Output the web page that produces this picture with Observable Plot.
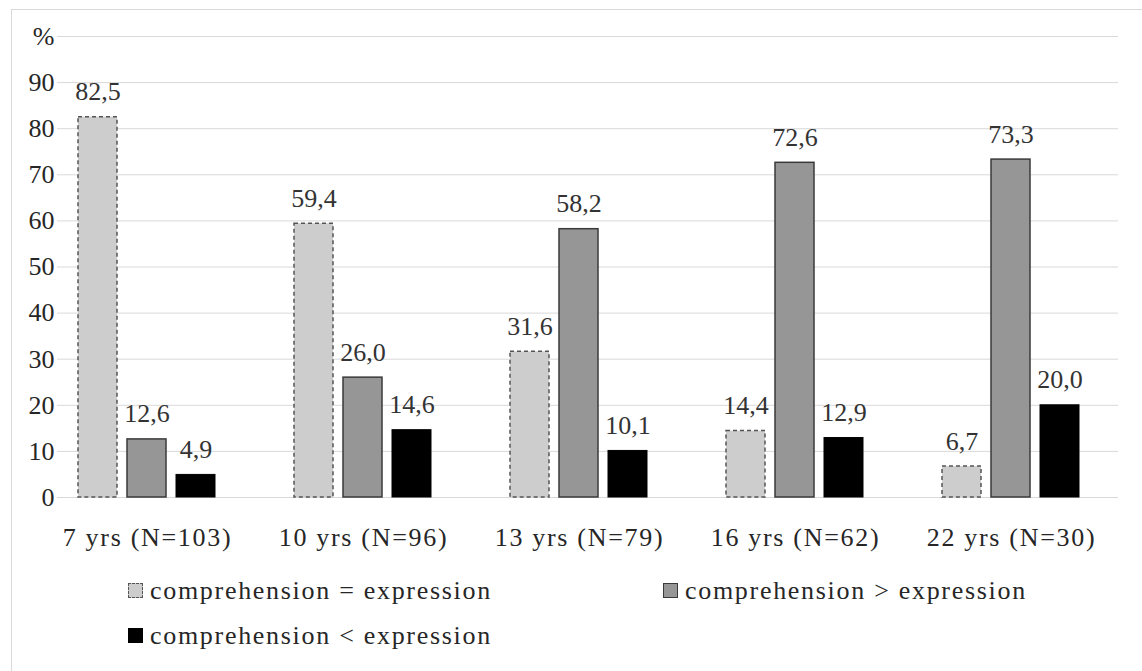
<!DOCTYPE html>
<html>
<head>
<meta charset="utf-8">
<script src="https://cdn.jsdelivr.net/npm/d3@7"></script>
<script src="https://cdn.jsdelivr.net/npm/@observablehq/plot@0.6"></script>
<style>
  html, body { margin: 0; padding: 0; background: #fff; }
  #wrap { position: relative; width: 1142px; height: 671px; overflow: hidden; font-family: "Liberation Serif", "DejaVu Serif", serif; }
  #frame { position: absolute; left: 11px; top: 9px; right: -10px; bottom: -10px; border-top: 1px solid #d9d9d9; border-left: 1px solid #d9d9d9; }
  #chart { position: absolute; left: 0; top: 0; width: 1142px; height: 560px; }
  #chart svg { position: absolute; left: 0; top: 0; }
  #chart svg text { font-family: "Liberation Serif", "DejaVu Serif", serif; }
  g[aria-label="fx-axis tick label"] text { letter-spacing: 1.7px; }
  #legend { position: absolute; left: 128px; top: 560px; padding-top: 8px; display: grid; grid-template-columns: 535px 535px; font-size: 26px; line-height: 45px; color: #262626; letter-spacing: 1.7px; }
  .item { display: flex; align-items: center; white-space: nowrap; }
  .sw { width: 15px; height: 15px; margin-right: 7px; box-sizing: border-box; }
</style>
</head>
<body>
<div id="wrap">
  <div id="frame"></div>
  <div id="chart"></div>
  <div id="legend"></div>
</div>
<script>
const groups = ["7 yrs (N=103)", "10 yrs (N=96)", "13 yrs (N=79)", "16 yrs (N=62)", "22 yrs (N=30)"];
const series = ["comprehension = expression", "comprehension > expression", "comprehension < expression"];
const equalValues = [82.5, 59.4, 31.6, 14.4, 6.7];
const greaterValues = [12.6, 26.0, 58.2, 72.6, 73.3];
const lessValues = [4.9, 14.6, 10.1, 12.9, 20.0];
const yTicks = [0, 10, 20, 30, 40, 50, 60, 70, 80, 90, 100];

const seriesStyle = [
  {fill: "#cdcdcd", stroke: "#555555", strokeDasharray: "4,3", strokeWidth: 1.5},
  {fill: "#969696", stroke: "#3a3a3a", strokeDasharray: null, strokeWidth: 1.5},
  {fill: "#000000", stroke: "#000000", strokeDasharray: null, strokeWidth: 1}
];

const valuesBySeries = [equalValues, greaterValues, lessValues];
const data = [];
series.forEach((s, si) => groups.forEach((g, gi) => data.push({group: g, series: s, value: valuesBySeries[si][gi]})));

const W = 1142, H = 560, MT = 36, MB = 63;
const fmt = v => v.toFixed(1).replace(".", ",");
const baseStyle = {fontFamily: "'Liberation Serif', 'DejaVu Serif', serif", fontSize: "26px", color: "#262626", background: "transparent", overflow: "visible"};

const base = Plot.plot({
  width: W, height: H,
  marginTop: MT, marginBottom: MB, marginLeft: 57, marginRight: 24,
  style: baseStyle,
  y: {domain: [0, 100]},
  marks: [
    Plot.gridY(yTicks, {stroke: "#d9d9d9", strokeOpacity: 1, strokeWidth: 1}),
    Plot.axisY(yTicks, {tickSize: 0, tickPadding: 3, tickFormat: d => d === 100 ? "%" : d, label: null, fill: "#262626"})
  ]
});

const bars = Plot.plot({
  width: W, height: H,
  marginTop: MT, marginBottom: MB, marginLeft: 39, marginRight: 23,
  style: baseStyle,
  fx: {domain: groups, padding: 0, label: null},
  x: {domain: series, paddingInner: 0.204, paddingOuter: 0.806, axis: null},
  y: {domain: [0, 100], axis: null},
  marks: [
    ...series.map((s, si) => Plot.barY(data.filter(d => d.series === s), {
      fx: "group", x: "series", y: "value",
      fill: seriesStyle[si].fill, stroke: seriesStyle[si].stroke,
      strokeWidth: seriesStyle[si].strokeWidth,
      strokeDasharray: seriesStyle[si].strokeDasharray
    })),
    Plot.text(data, {fx: "group", x: "series", y: "value", text: d => fmt(d.value), dy: -17, lineAnchor: "bottom", fill: "#333333"}),
    Plot.axisFx({anchor: "bottom", tickSize: 0, tickPadding: 30, label: null, fill: "#262626"})
  ]
});

const chart = document.getElementById("chart");
chart.appendChild(base);
chart.appendChild(bars);

const legend = document.getElementById("legend");
series.forEach((s, si) => {
  const item = document.createElement("div");
  item.className = "item";
  const sw = document.createElement("span");
  sw.className = "sw";
  const st = seriesStyle[si];
  sw.style.background = st.fill;
  sw.style.border = `1.5px ${st.strokeDasharray ? "dashed" : "solid"} ${st.stroke}`;
  const label = document.createElement("span");
  label.textContent = s;
  item.appendChild(sw);
  item.appendChild(label);
  legend.appendChild(item);
});
</script>
</body>
</html>
